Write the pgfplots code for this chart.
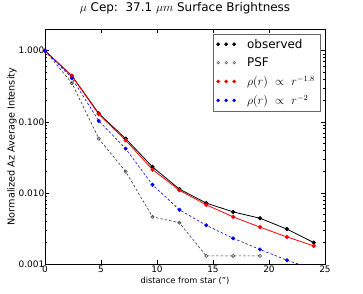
\documentclass[border=0pt]{standalone}
\usepackage{fontspec}
\setmainfont{DejaVu Sans}
\usepackage{pgfplots}
\pgfplotsset{compat=1.18}
\begin{document}
\begin{tikzpicture}
\begin{axis}[
 at={(0,0)}, anchor=south west,
 scale only axis, width=280bp, height=235bp,
 xmin=0, xmax=25, ymode=log, ymin=0.001, ymax=2.02,
 xtick={0,5,10,15,20,25}, xticklabels={0,5,10,15,20,25},
 ytick={0.001,0.01,0.1,1}, yticklabels={0.001,0.010,0.100,1.000},
 tick label style={font=\fontsize{9}{10}\selectfont},
 yticklabel style={inner sep=0pt, xshift=-0.5bp},
 xticklabel style={inner sep=0pt, yshift=-1.5bp},
 major tick length=4bp, minor tick length=2bp,
 tick style={black, line width=0.5bp},
 axis line style={line width=0.8bp},
 title={$\mu$ Cep:\ \ 37.1 $\mu m$ Surface Brightness},
 title style={font=\fontsize{12}{14}\selectfont, at={(0.5,1)}, anchor=center, yshift=15bp},
 xlabel={distance from star (")},
 xlabel style={font=\fontsize{8.3}{10}\selectfont, at={(0.5,0)}, anchor=center, yshift=-17bp},
 ylabel={Normalized Az Average Intensity},
 ylabel style={font=\fontsize{9.7}{11}\selectfont, at={(-0.118,0.5)}, anchor=center},
 legend cell align=left,
 legend style={at={(0.983,0.98)}, anchor=north east, draw=black!60, line width=0.6bp,
   font=\fontsize{12}{14}\selectfont, row sep=4bp, inner ysep=3bp, inner xsep=3bp},
]
\addplot[black, line width=0.8bp, mark=*, mark size=1.7bp,
  legend image code/.code={\path[draw=none,fill=none] plot[only marks, mark=*, mark size=1.4bp, mark options={solid, draw=black, fill=black}] coordinates {(0bp,0bp) (8bp,0bp) (16bp,0bp)};
  \path[draw=none,fill=none] (-2bp,0bp) -- (27bp,0bp);}]
 coordinates {(0,1) (2.4,0.445) (4.8,0.131) (7.2,0.058) (9.6,0.0232) (12,0.0113) (14.4,0.0072) (16.8,0.0054) (19.2,0.0044) (21.6,0.0031) (24,0.0020)};
\addlegendentry{observed}
\addplot[black!80, line width=0.6bp, dash pattern=on 2.5bp off 2bp, mark=o, mark size=1.6bp, mark options={solid, fill=white, draw=black!75},
  legend image code/.code={\path[draw=none,fill=none] plot[only marks, mark=*, mark size=1.3bp, mark options={solid, draw=black!75, fill=white, line width=0.5bp}] coordinates {(0bp,0bp) (8bp,0bp) (16bp,0bp)};
  \path[draw=none,fill=none] (-2bp,0bp) -- (27bp,0bp);}]
 coordinates {(0,1) (2.4,0.35) (4.8,0.058) (7.2,0.020) (9.6,0.0046) (12,0.0038) (14.4,0.0013) (16.8,0.0013) (19.2,0.0013)};
\addlegendentry{PSF}
\addplot[red, line width=0.8bp, mark=*, mark size=1.7bp,
  legend image code/.code={\path[draw=none,fill=none] plot[only marks, mark=*, mark size=1.4bp, mark options={solid, draw=red, fill=red}] coordinates {(0bp,0bp) (8bp,0bp) (16bp,0bp)};
  \path[draw=none,fill=none] (-2bp,0bp) -- (27bp,0bp);}]
 coordinates {(0,1) (2.4,0.44) (4.8,0.128) (7.2,0.055) (9.6,0.0213) (12,0.0109) (14.4,0.0068) (16.8,0.0046) (19.2,0.0033) (21.6,0.0024) (24,0.0018)};
\addlegendentry{$\rho(r)\ \propto\ r^{-1.8}$}
\addplot[blue, line width=0.6bp, dash pattern=on 2.5bp off 2bp, mark=*, mark size=1.7bp, mark options={solid},
  legend image code/.code={\path[draw=none,fill=none] plot[only marks, mark=*, mark size=1.4bp, mark options={solid, draw=blue, fill=blue}] coordinates {(0bp,0bp) (8bp,0bp) (16bp,0bp)};
  \path[draw=none,fill=none] (-2bp,0bp) -- (27bp,0bp);}]
 coordinates {(0,1) (2.4,0.41) (4.8,0.103) (7.2,0.042) (9.6,0.013) (12,0.0058) (14.4,0.0035) (16.8,0.0023) (19.2,0.0016) (21.6,0.00113) (24,0.00085)};
\addlegendentry{$\rho(r)\ \propto\ r^{-2}$}
\end{axis}
\pgfresetboundingbox
\path (-45bp,-30bp) rectangle (318bp,264bp);
\end{tikzpicture}
\end{document}
